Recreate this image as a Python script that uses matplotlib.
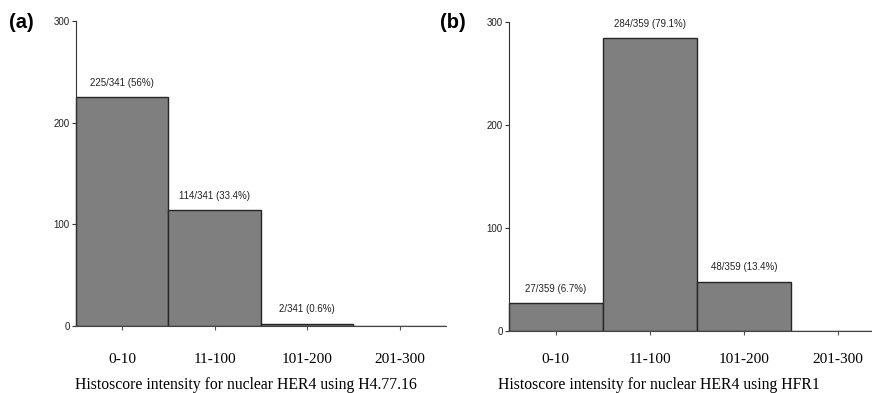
import numpy as np
import matplotlib
matplotlib.use("Agg")
import matplotlib.pyplot as plt

# histoscore bins and counts for the two antibodies
categories = ["0-10", "11-100", "101-200", "201-300"]
counts_h477 = [225, 114, 2, 0]
labels_h477 = ["225/341 (56%)", "114/341 (33.4%)", "2/341 (0.6%)", None]
counts_hfr1 = [27, 284, 48, 0]
labels_hfr1 = ["27/359 (6.7%)", "284/359 (79.1%)", "48/359 (13.4%)", None]
yticks = [0, 100, 200, 300]

fig = plt.figure(figsize=(8.72, 3.93), dpi=100)
W, H = 872.0, 393.0


def draw_panel(rect, counts, labels, xlabel, tag, tag_x, tick_pad, label_xy):
    ax = fig.add_axes(rect)
    x = np.arange(len(categories))
    ax.bar(x, counts, width=1.0, align="edge", color="#7f7f7f",
           edgecolor="#262626", linewidth=1.0)
    for xi, c, lab in zip(x, counts, labels):
        if lab is None:
            continue
        ax.annotate(lab, (xi + 0.5, c), xytext=(0, 10.5), textcoords="offset points",
                    ha="center", va="center", fontsize=7,
                    family="Liberation Sans", color="#222222")
    ax.set_xlim(-0.03, 4)
    ax.set_ylim(0, 300)
    for s in ["top", "right"]:
        ax.spines[s].set_visible(False)
    ax.spines["left"].set_color("#333333")
    ax.spines["bottom"].set_color("#444444")
    ax.spines["left"].set_bounds(0, 300)
    ax.spines["left"].set_position(("data", 0))
    ax.set_xticks(x + 0.5)
    ax.set_xticklabels(categories, family="Liberation Serif", fontsize=11)
    ax.tick_params(axis="x", length=3, width=0.8, color="#555555", pad=tick_pad)
    ax.set_yticks(yticks)
    ax.set_yticklabels([str(v) for v in yticks], family="Liberation Sans",
                       fontsize=7, color="#222222")
    ax.tick_params(axis="y", length=3, width=0.8, color="#333333", pad=1.5)
    ax.set_xlabel(xlabel, family="Liberation Serif", fontsize=11.3)
    ax.xaxis.label.set_va("center")
    ax.xaxis.set_label_coords(*label_xy)
    fig.text(tag_x, 1 - 22 / H, tag, fontsize=14.5, fontweight="bold",
             family="Liberation Sans", ha="left", va="center")
    return ax


draw_panel([73 / W, 67 / H, 373 / W, 305 / H], counts_h477, labels_h477,
           "Histoscore intensity for nuclear HER4 using H4.77.16", "(a)", 9 / W,
           16.2, (0.464, -0.192))
draw_panel([506 / W, 62 / H, 379 / W, 309 / H], counts_hfr1, labels_hfr1,
           "Histoscore intensity for nuclear HER4 using HFR1", "(b)", 440 / W,
           12.6, (0.404, -0.174))

fig.savefig("out.png", dpi=100)
